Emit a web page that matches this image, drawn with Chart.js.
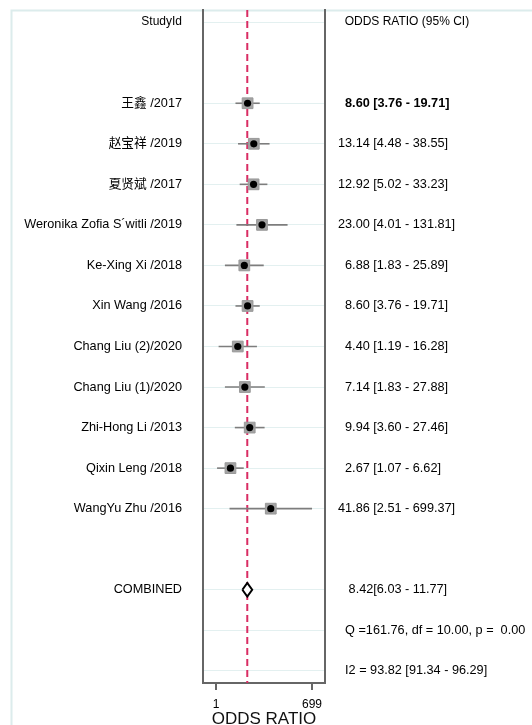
<!DOCTYPE html>
<html>
<head>
<meta charset="utf-8">
<script src="https://cdn.jsdelivr.net/npm/chart.js@4.4.1/dist/chart.umd.min.js"></script>
<style>
  html,body{margin:0;padding:0;background:#fff;}
  canvas{display:block;}
</style>
</head>
<body>
<canvas id="forest" width="532" height="725"></canvas>
<script>
// --- data ---
const studies = ['王鑫 /2017','赵宝祥 /2019','夏贤斌 /2017','Weronika Zofia S´witli /2019','Ke-Xing Xi /2018',
  'Xin Wang /2016','Chang Liu (2)/2020','Chang Liu (1)/2020','Zhi-Hong Li /2013','Qixin Leng /2018','WangYu Zhu /2016'];
const oddsRatio = [8.60, 13.14, 12.92, 23.00, 6.88, 8.60, 4.40, 7.14, 9.94, 2.67, 41.86];
const ciLow     = [3.76, 4.48, 5.02, 4.01, 1.83, 3.76, 1.19, 1.83, 3.60, 1.07, 2.51];
const ciHigh    = [19.71, 38.55, 33.23, 131.81, 25.89, 19.71, 16.28, 27.88, 27.46, 6.62, 699.37];
const combinedOR = 8.42;
const combinedCI = [6.03, 11.77];
const heterogeneity = ['Q =161.76, df = 10.00, p =  0.00', 'I2 = 93.82 [91.34 - 96.29]'];
const xTicks = [1, 699];

// --- row layout (0 = header, studies from row 2) ---
const firstRow = 2, combinedRow = 14, rowMin = -0.3, rowMax = 16.3;
const FS = '\u2007';   // figure space: keeps the OR column right aligned like Stata's %5.2f
const leftLabels = {0:'StudyId', [combinedRow]:'COMBINED'};
const rightLabels = {0: FS + 'ODDS RATIO (95% CI)',
  [combinedRow]: FS + ' ' + combinedOR.toFixed(2) + '[' + combinedCI[0].toFixed(2) + ' - ' + combinedCI[1].toFixed(2) + ']'};
studies.forEach((s,i)=>{
  leftLabels[firstRow+i] = s;
  const or = oddsRatio[i].toFixed(2);
  rightLabels[firstRow+i] = (or.length < 5 ? FS : '') + `${or} [${ciLow[i].toFixed(2)} - ${ciHigh[i].toFixed(2)}]`;
});
heterogeneity.forEach((h,i)=>{ rightLabels[combinedRow+1+i] = FS + h; });
const tickRows = Object.keys(rightLabels).map(Number).sort((a,b)=>a-b);

const FONT = "'Liberation Sans', Arial, 'Noto Sans CJK SC', sans-serif";
const TXT = '#000';
const labelFont = (v, bold) => ({family:FONT, size: v === 0 ? 12 : 12.7, weight: bold ? 'bold' : 'normal'});

// --- datasets ---
const ciSets = studies.map((s,i)=>({
  data:[{x:ciLow[i], y:firstRow+i},{x:ciHigh[i], y:firstRow+i}],
  showLine:true, borderColor:'#7d7d7d', borderWidth:1.6, pointRadius:0, order:3
}));
const boxSet = {
  data: oddsRatio.map((v,i)=>({x:v, y:firstRow+i})),
  pointStyle:'rect', pointRadius:7.6, backgroundColor:'#a3a3a3', borderColor:'#999', borderWidth:1, order:1
};
const dotSet = {
  data: oddsRatio.map((v,i)=>({x:v, y:firstRow+i})),
  pointStyle:'circle', pointRadius:3.6, backgroundColor:'#000', borderColor:'#000', borderWidth:0, order:0
};
const dh = 0.17;
const diamondSet = {
  data:[{x:combinedCI[0], y:combinedRow},{x:combinedOR, y:combinedRow-dh},{x:combinedCI[1], y:combinedRow},
        {x:combinedOR, y:combinedRow+dh},{x:combinedCI[0], y:combinedRow}],
  showLine:true, fill:'shape', backgroundColor:'#fff', borderColor:'#000', borderWidth:2, pointRadius:0, order:2
};
const refLine = {
  data:[{x:combinedOR, y:rowMin},{x:combinedOR, y:rowMax}],
  showLine:true, borderColor:'#d92c63', borderWidth:2, borderDash:[7,4], pointRadius:0, order:4
};

// light frame of the graph region
const framePlugin = {
  id:'frame',
  beforeDraw(chart){
    const c = chart.ctx;
    c.save();
    c.fillStyle = '#fff';
    c.fillRect(0,0,chart.width,chart.height);
    c.strokeStyle = '#dcecec';
    c.lineWidth = 2;
    c.beginPath();
    c.moveTo(11.5, chart.height); c.lineTo(11.5, 10.5); c.lineTo(chart.width, 10.5);
    c.stroke();
    c.restore();
  }
};

// fixed axis boxes so the plot frame sits where the original does
const fitY = w => a => { a.width = w; a.paddingTop = 0; a.paddingBottom = 0; };

new Chart(document.getElementById('forest'), {
  type:'scatter',
  data:{ datasets:[...ciSets, boxSet, dotSet, diamondSet, refLine] },
  options:{
    responsive:false, animation:false, devicePixelRatio:1,
    layout:{ padding:{ top:10, left:0, right:0, bottom:0 } },
    plugins:{ legend:{display:false}, tooltip:{enabled:false} },
    scales:{
      x:{
        type:'logarithmic', min:0.41, max:1696,
        afterBuildTicks: a => { a.ticks = xTicks.map(v=>({value:v})); },
        afterFit: a => { a.height = 42; a.paddingLeft = 0; a.paddingRight = 0; },
        grid:{ display:true, drawOnChartArea:false, drawTicks:true, tickLength:7, color:'#666', lineWidth:2 },
        border:{ display:true, color:'#666', width:2 },
        ticks:{ autoSkip:false, maxRotation:0, padding:7, color:TXT, font:{family:FONT, size:12}, callback: v => String(v) },
        title:{ display:true, text:'ODDS RATIO', color:'#111', font:{family:FONT, size:17}, padding:{top:0, bottom:-5} }
      },
      y:{
        position:'left', min:rowMin, max:rowMax, reverse:true,
        afterBuildTicks: a => { a.ticks = tickRows.map(v=>({value:v})); },
        afterFit: fitY(203),
        grid:{ display:true, drawTicks:false, color:'#e3f0f0', lineWidth:1 },
        border:{ display:true, color:'#666', width:2 },
        ticks:{ autoSkip:false, padding:21, color:TXT,
          font: ctx => labelFont(ctx.tick ? ctx.tick.value : -1, false),
          callback: v => leftLabels[v] || '' }
      },
      yR:{
        position:'right', min:rowMin, max:rowMax, reverse:true,
        afterBuildTicks: a => { a.ticks = tickRows.map(v=>({value:v})); },
        afterFit: fitY(207),
        grid:{ display:false, drawTicks:false },
        border:{ display:true, color:'#666', width:2 },
        ticks:{ autoSkip:false, padding:13, color:TXT,
          font: ctx => labelFont(ctx.tick ? ctx.tick.value : -1, ctx.tick && ctx.tick.value === firstRow),
          callback: v => rightLabels[v] || '' }
      }
    }
  },
  plugins:[framePlugin]
});
</script>
</body>
</html>
